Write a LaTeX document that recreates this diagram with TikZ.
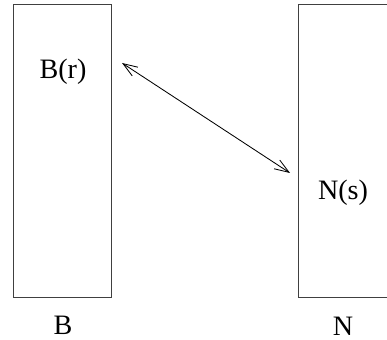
\documentclass[tikz,border=0pt]{standalone}
\usepackage{fontspec}
\setmainfont{Liberation Serif}
\usepackage{tikz}
\usetikzlibrary{arrows.meta,positioning}

\begin{document}
\begin{tikzpicture}[
  font=\fontsize{20}{24}\selectfont,
  setbx/.style={draw=black!75, line width=0.7pt, inner sep=0pt},
  lbl/.style  ={inner sep=1pt},
  nm/.style   ={inner sep=0pt, anchor=base},
  ar/.style   ={{Straight Barb[length=3.6mm, width=2.6mm]}-{Straight Barb[length=3.6mm, width=2.6mm]},
                line width=0.6pt, black}
]
\useasboundingbox (0,0) rectangle (9.675,8.5);

% =============== the two sets ===============
\node[setbx, minimum width=2.45cm, minimum height=7.3cm] (bset) at (1.55,4.725) {};
\node[setbx, minimum width=2.4cm,  minimum height=7.3cm] (nset) at (8.65,4.725) {};

% points inside each set
\node[lbl] (br) at (1.575,6.7)  {B(r)};
\node[lbl] (ns) at (8.575,3.675) {N(s)};

% set names underneath
\node[nm] (bname) at (1.575,0.14) {B};
\node[nm] (nname) at (8.575,0.12) {N};

% the correspondence between the two points
\coordinate (from) at (3.05,6.925);
\coordinate (to)   at (7.25,4.175);
\draw[ar] (from) -- (to);
\end{tikzpicture}
\end{document}
